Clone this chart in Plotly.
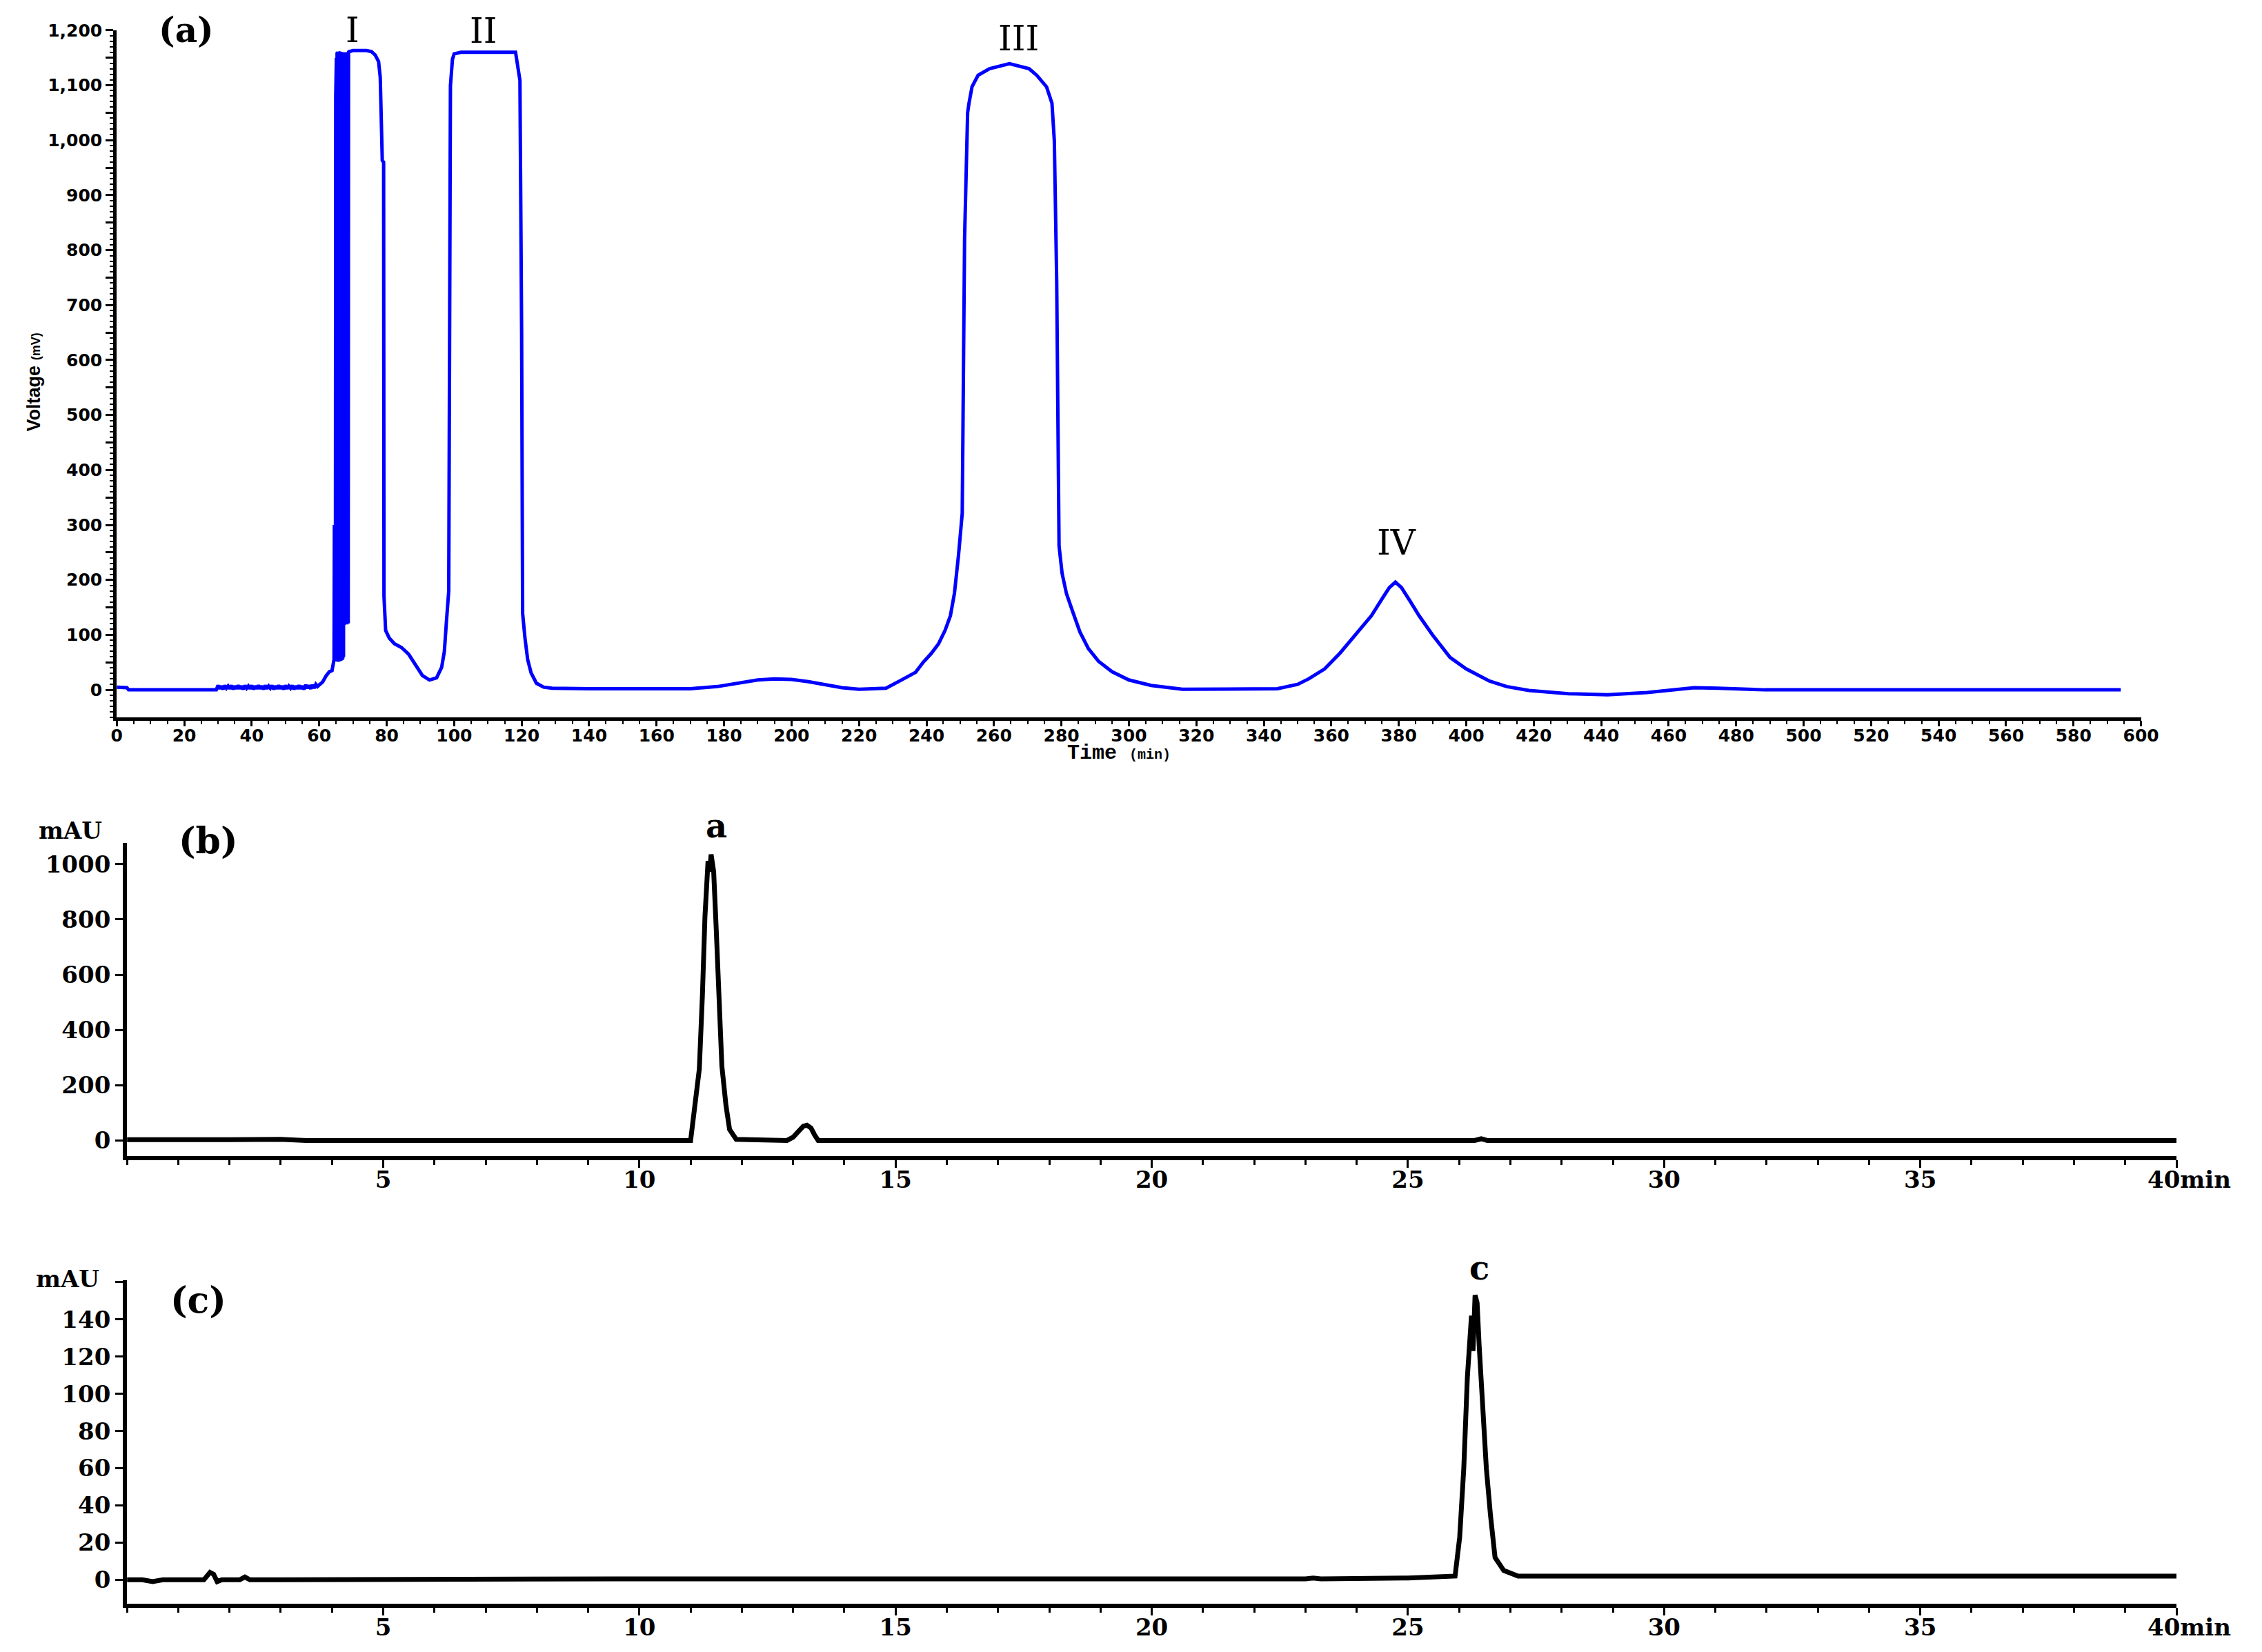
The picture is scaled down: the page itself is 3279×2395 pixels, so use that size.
import numpy as np
import plotly.graph_objects as go

W, H = 3279, 2395

# ---------------- Panel (a): Voltage (mV) vs Time (min) ----------------
a_start_t = [0, 3, 3.5, 29.5]
a_start_v = [5, 4, 0, 0]

a_noise_t = list(np.round(np.arange(30.0, 59.5, 0.5), 2))
a_noise_v = [8, 2, 7, 1, 8, 3, 7, 2, 8, 1,
             7, 2, 8, 2, 7, 1, 8, 3, 7, 2,
             8, 1, 7, 2, 8, 2, 7, 1, 8, 2,
             7, 3, 8, 1, 7, 2, 8, 2, 7, 1,
             8, 2, 7, 3, 8, 1, 7, 2, 8, 2,
             7, 1, 9, 3, 8, 2, 9, 3, 10]

a_rise_t = [59.5, 60, 61, 62, 63, 63.8, 64.3]
a_rise_v = [6, 9, 14, 25, 33, 35, 55]

a_band_t = list(np.round(np.arange(64.4, 68.75, 0.1), 2))
a_band_v = [55, 300, 58, 300, 56, 1080, 54, 1150, 52, 1158,
            53, 1160, 51, 1158, 54, 1160, 52, 1159, 55, 1160,
            53, 1158, 56, 1160, 54, 1159, 57, 1160, 60, 1158,
            118, 1160, 122, 1159, 120, 1160, 124, 1158, 119, 1160,
            123, 1159, 121, 1160]

a_main_t = [68.8, 70, 74, 75.5, 76.6, 77.6, 78.1, 78.7, 79.1, 79.2,
            79.7, 80.8, 82.3, 84.4, 86.5, 88.6, 90.6, 92.7, 94.8, 96.3,
            97.1, 97.7, 98.4, 98.9, 99.5, 100, 102, 118.2, 118.7, 119.5,
            120, 120.3, 121, 121.8, 122.8, 124.4, 126.5, 129, 140, 160,
            170, 178, 185, 190, 195, 200, 205, 210, 215, 220,
            228, 232, 236.8, 239, 241.4, 243.6, 245.5, 247.1, 248.3, 249.5,
            250.6, 251.3, 252.2, 252.6, 253.5, 255.3, 258.7, 264.6, 270.4, 272.7,
            275.6, 277.2, 277.9, 278.6, 279.3, 280.2, 281.5, 283.3, 285.5, 288,
            291, 295, 300, 306.6, 315.9, 344, 350, 353.3, 358, 362.6,
            367, 371.9, 375.4, 377.2, 379.0, 380.8, 383.5, 386, 390, 395.2,
            400, 406.9, 412, 418.6, 430.3, 441.9, 453.6, 462, 467.6, 474.6,
            480, 488.6, 594]
a_main_v = [1161, 1163, 1163, 1161, 1155, 1143, 1114, 963, 960, 171,
            108, 94, 84, 77, 65, 46, 26, 18, 22, 41,
            70, 123, 180, 1099, 1147, 1157, 1160, 1160, 1138, 1109,
            653, 139, 94, 55, 31, 12, 5, 3, 2, 1,
            2, 6, 13, 18, 20, 19, 15, 9, 4, 1,
            3, 16, 32, 50, 66, 84, 108, 135, 176, 245,
            321, 821, 1050, 1067, 1097, 1118, 1130, 1139, 1130, 1118,
            1097, 1067, 999, 745, 262, 212, 175, 143, 105, 75,
            52, 33, 18, 8, 1, 2, 10, 20, 38, 67,
            100, 135, 169, 186, 196, 186, 160, 135, 100, 59,
            38, 16, 6, -1, -7, -9, -5, 1, 4, 3,
            2, 0, 0]

a_yticks = list(range(0, 1201, 50))
a_xticks = list(range(0, 601, 20))
a_peak_labels = ["I", "II", "III", "IV"]
a_peak_label_t = [69.9, 108.8, 267.2, 379.4]

# ---------------- Panel (b): mAU vs min ----------------
b_t = [0, 0.5, 1.0, 2.0, 3.0, 3.4, 3.5, 11.0, 11.06, 11.17,
       11.23, 11.28, 11.34, 11.37, 11.40, 11.45, 11.50, 11.56, 11.61, 11.69,
       11.76, 11.89, 12.88, 13.0, 13.1, 13.2, 13.27, 13.35, 13.42, 13.49,
       26.3, 26.43, 26.55, 40]
b_v = [3, 4, 3, 3, 4, 3, 0, 0, 98, 259,
       525, 811, 1011, 973, 1035, 973, 764, 497, 269, 127,
       40, 4, 0, 12, 35, 52, 55, 45, 20, 0,
       0, 6, 0, 0]
b_yticks = [0, 200, 400, 600, 800, 1000]

# ---------------- Panel (c): mAU vs min ----------------
c_t = [0, 0.3, 0.5, 0.7, 1.5, 1.62, 1.69, 1.76, 1.85, 2.2,
       2.3, 2.4, 3.0, 9.5, 23.0, 23.15, 23.3, 25.0, 25.92, 26.01,
       26.09, 26.16, 26.24, 26.27, 26.31, 26.35, 26.39, 26.45, 26.53, 26.61,
       26.7, 26.87, 27.15, 30, 40]
c_v = [0, 0, -1, 0, 0, 4, 3, -1, 0, 0,
       1.5, 0, 0, 0.5, 0.5, 1, 0.5, 1, 2, 23,
       60, 109, 142, 123, 153, 149, 126, 92, 60, 35,
       12, 5, 2, 2, 2]
c_yticks = [0, 20, 40, 60, 80, 100, 120, 140, 160]

bc_xticks = [5, 10, 15, 20, 25, 30, 35, 40]
bc_xticktext = ["5", "10", "15", "20", "25", "30", "35", ""]   # "40min" drawn as a text

# ---------------- figure ----------------
fig = go.Figure()
a_t = a_start_t + a_noise_t + a_rise_t + a_band_t + a_main_t
a_v = a_start_v + a_noise_v + a_rise_v + a_band_v + a_main_v
fig.add_trace(go.Scatter(x=a_t, y=a_v, mode="lines", line=dict(color="#0000FF", width=5),
                         xaxis="x", yaxis="y", showlegend=False))
fig.add_trace(go.Scatter(x=b_t, y=b_v, mode="lines", line=dict(color="black", width=7),
                         xaxis="x2", yaxis="y2", showlegend=False))
fig.add_trace(go.Scatter(x=c_t, y=c_v, mode="lines", line=dict(color="black", width=7),
                         xaxis="x3", yaxis="y3", showlegend=False))


def px(x):
    return x / W


def py(y):
    return 1 - y / H


sans_tick = dict(family="DejaVu Sans", size=25, color="black", weight="bold")
serif_tick = dict(family="DejaVu Serif", size=34, color="black", weight="bold")

common = dict(showgrid=False, zeroline=False, showline=True, linecolor="black",
              ticks="outside", tickcolor="black")

A_TOP, A_BOT = 30, 1032
B_TOP, B_BOT = 1215, 1672
C_TOP, C_BOT = 1853, 2325
AX_L, AX_R = 162, 3128
BX_L, BX_R = 177, 3180

fig.update_layout(
    width=W, height=H,
    margin=dict(l=0, r=0, t=0, b=0),
    paper_bgcolor="white", plot_bgcolor="white",
    xaxis=dict(domain=[px(AX_L), px(AX_R)], range=[0, 600], anchor="y",
               tickmode="array", tickvals=a_xticks, ticktext=[str(v) for v in a_xticks],
               ticklen=8, tickwidth=3, linewidth=5, tickfont=sans_tick,
               ticklabelstandoff=-8,
               minor=dict(dtick=5, ticklen=5, tickwidth=2, tickcolor="black", ticks="outside"),
               **common),
    yaxis=dict(domain=[py(A_BOT), py(A_TOP)], range=[-50, 1200], anchor="x",
               tickmode="array", tickvals=a_yticks,
               ticktext=[f"{v:,}" if v % 100 == 0 else "" for v in a_yticks],
               ticklen=11, tickwidth=3, linewidth=5, tickfont=sans_tick,
               minor=dict(dtick=10, ticklen=5, tickwidth=2, tickcolor="black", ticks="outside"),
               **common),
    xaxis2=dict(domain=[px(BX_L), px(BX_R)], range=[0, 40], anchor="y2",
                tickmode="array", tickvals=bc_xticks, ticktext=bc_xticktext,
                ticklen=11, tickwidth=3, linewidth=6, tickfont=serif_tick,
                ticklabelstandoff=-12,
                minor=dict(dtick=1, ticklen=7, tickwidth=3, tickcolor="black", ticks="outside"),
                **common),
    yaxis2=dict(domain=[py(B_BOT), py(B_TOP)], range=[-57, 1077], anchor="x2",
                tickmode="array", tickvals=b_yticks, ticktext=[str(v) for v in b_yticks],
                ticklen=11, tickwidth=3, linewidth=6, tickfont=serif_tick, **common),
    xaxis3=dict(domain=[px(BX_L), px(BX_R)], range=[0, 40], anchor="y3",
                tickmode="array", tickvals=bc_xticks, ticktext=bc_xticktext,
                ticklen=11, tickwidth=3, linewidth=6, tickfont=serif_tick,
                ticklabelstandoff=-12,
                minor=dict(dtick=1, ticklen=7, tickwidth=3, tickcolor="black", ticks="outside"),
                **common),
    yaxis3=dict(domain=[py(C_BOT), py(C_TOP)], range=[-13, 161], anchor="x3",
                tickmode="array", tickvals=c_yticks,
                ticktext=[str(v) if v < 160 else "" for v in c_yticks],
                ticklen=11, tickwidth=3, linewidth=6, tickfont=serif_tick, **common),
)


def ann(text, x, y, size, family="DejaVu Serif", bold=False, xanchor="center",
        yanchor="middle", angle=0, xref="paper"):
    fig.add_annotation(text=text, x=(px(x) if xref == "paper" else x), y=py(y),
                       xref=xref, yref="paper",
                       xanchor=xanchor, yanchor=yanchor, showarrow=False, textangle=angle,
                       font=dict(family=family, size=size, color="black",
                                 weight="bold" if bold else "normal"))


# panel (a) texts
ann("(a)", 264, 30, 50, bold=True)
for lab, t, yy in zip(a_peak_labels, a_peak_label_t, [30, 31, 42, 778]):
    ann(lab, t, yy, 50, xref="x")
ann("Voltage <span style='font-size:18px'>(mV)</span>", 40, 543, 27,
    family="Liberation Sans", bold=True, angle=-90)
ann("Time <span style='font-size:20px'>(min)</span>", 1630, 1084, 30,
    family="Liberation Mono", bold=True)

# panel (b) texts
ann("mAU", 143, 1197, 34, bold=True, xanchor="right")
ann("(b)", 296, 1212, 52, bold=True)
ann("a", 11.5, 1190, 48, bold=True, xref="x2")
ann("40min", 3262, 1706, 34, bold=True, xanchor="right")

# panel (c) texts
ann("mAU", 138, 1851, 34, bold=True, xanchor="right")
ann("(c)", 281, 1882, 52, bold=True)
ann("c", 26.4, 1835, 48, bold=True, xref="x3")
ann("40min", 3262, 2359, 34, bold=True, xanchor="right")

fig.write_html("out.html", config={"displayModeBar": False},
               post_script="document.body.style.margin='0';document.body.style.overflow='hidden';")
